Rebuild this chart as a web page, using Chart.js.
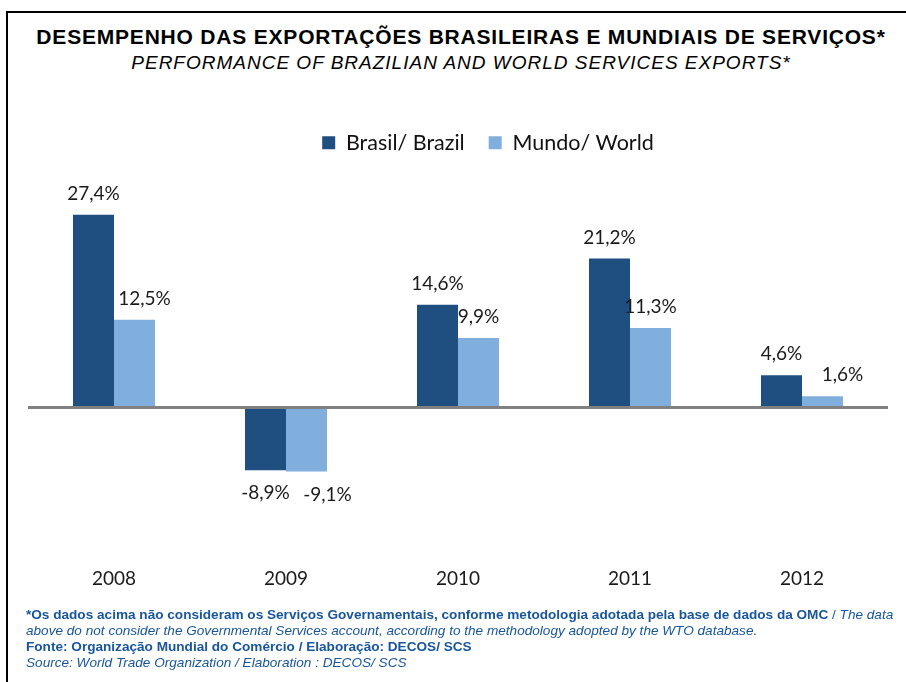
<!DOCTYPE html>
<html>
<head>
<meta charset="utf-8">
<script src="https://cdn.jsdelivr.net/npm/chart.js@4.4.1/dist/chart.umd.min.js"></script>
<style>
  html, body { margin: 0; padding: 0; background: #fff; }
  body { width: 906px; height: 682px; position: relative; overflow: hidden; }
  #frame { position: absolute; left: 6px; top: 11px; width: 920px; height: 700px; border: 2px solid #000; box-sizing: border-box; }
  #chartWrap { position: absolute; left: 0; top: 0; width: 906px; height: 682px; }
  .title { position: absolute; left: 0; width: 922px; text-align: center; font-family: "Liberation Sans", Arial, sans-serif; color: #000; white-space: nowrap; }
  #t1 { top: 25px; font-size: 21px; font-weight: bold; letter-spacing: 0.8px; }
  #t2 { top: 52px; font-size: 19px; font-style: italic; letter-spacing: 1px; }
  #notes { position: absolute; left: 26px; top: 607px; font-family: "Liberation Sans", Arial, sans-serif; font-size: 13.6px; line-height: 16px; color: #17559C; white-space: nowrap; }
  #notes .b { font-weight: bold; }
  #notes .i { font-style: italic; }
</style>
</head>
<body>
<div id="frame"></div>
<div class="title" id="t1">DESEMPENHO DAS EXPORTAÇÕES BRASILEIRAS E MUNDIAIS DE SERVIÇOS*</div>
<div class="title" id="t2">PERFORMANCE OF BRAZILIAN AND WORLD SERVICES EXPORTS*</div>
<div id="chartWrap"><canvas id="c" width="906" height="682"></canvas></div>
<div id="notes">
  <div><span class="b">*Os dados acima não consideram os Serviços Governamentais, conforme metodologia adotada pela base de dados da OMC</span> / <span class="i">The data</span></div>
  <div class="i">above do not consider the Governmental Services account, according to the methodology adopted by the WTO database.</div>
  <div class="b">Fonte: Organização Mundial do Comércio / Elaboração: DECOS/ SCS</div>
  <div class="i">Source: World Trade Organization / Elaboration : DECOS/ SCS</div>
</div>
<script>
const years = ["2008", "2009", "2010", "2011", "2012"];
const brazilValues = [27.4, -8.9, 14.6, 21.2, 4.6];
const worldValues = [12.5, -9.1, 9.9, 11.3, 1.6];
const seriesNames = ["Brasil/ Brazil", "Mundo/ World"];

const labelShift = [[0, 0, 0, 0, 0], [10, 21, 0, 0, 20]];

const valueLabels = {
  id: 'valueLabels',
  afterDatasetsDraw(chart) {
    const ctx = chart.ctx;
    ctx.save();
    ctx.font = '19px Lato, "Open Sans", sans-serif';
    ctx.fillStyle = '#1a1a1a';
    ctx.textAlign = 'center';
    ctx.textBaseline = 'middle';
    chart.data.datasets.forEach((ds, di) => {
      const meta = chart.getDatasetMeta(di);
      meta.data.forEach((bar, i) => {
        const v = ds.data[i];
        const txt = v.toFixed(1).replace('.', ',') + '%';
        const y = v >= 0 ? bar.y - 21 : bar.y + 23;
        ctx.fillText(txt, bar.x + labelShift[di][i], y);
      });
    });
    ctx.restore();
  }
};

const legendShift = {
  id: 'legendShift',
  afterLayout(chart) {
    if (chart.legend) { chart.legend.left += 30; chart.legend.right += 30; }
  }
};

new Chart(document.getElementById('c'), {
  type: 'bar',
  data: {
    labels: years,
    datasets: [
      { label: seriesNames[0], data: brazilValues, backgroundColor: '#1F4E80' },
      { label: seriesNames[1], data: worldValues, backgroundColor: '#80AEDD' }
    ]
  },
  options: {
    responsive: false,
    animation: false,
    devicePixelRatio: 1,
    layout: { padding: { left: 28, right: 18, top: 108, bottom: 85.6 } },
    datasets: { bar: { categoryPercentage: 0.477, barPercentage: 1.0, borderWidth: 0 } },
    plugins: {
      legend: {
        position: 'top',
        labels: {
          font: { family: 'Lato, "Open Sans", sans-serif', size: 21.5 },
          color: '#111',
          boxWidth: 13,
          boxHeight: 13,
          padding: 24
        }
      },
      tooltip: { enabled: false },
      title: { display: false }
    },
    scales: {
      x: {
        grid: { display: false, drawTicks: false },
        border: { display: false },
        ticks: { font: { family: 'Lato, "Open Sans", sans-serif', size: 19 }, color: '#1a1a1a', padding: 6 }
      },
      y: {
        min: -21.9,
        max: 34.7,
        ticks: { display: false },
        border: { display: false },
        grid: {
          drawTicks: false,
          color: (c) => c.tick && c.tick.value === 0 ? '#808080' : 'rgba(0,0,0,0)',
          lineWidth: (c) => c.tick && c.tick.value === 0 ? 3 : 0
        },
        afterBuildTicks: (axis) => { axis.ticks = [{ value: 0 }]; }
      }
    }
  },
  plugins: [valueLabels, legendShift]
});
</script>
</body>
</html>
